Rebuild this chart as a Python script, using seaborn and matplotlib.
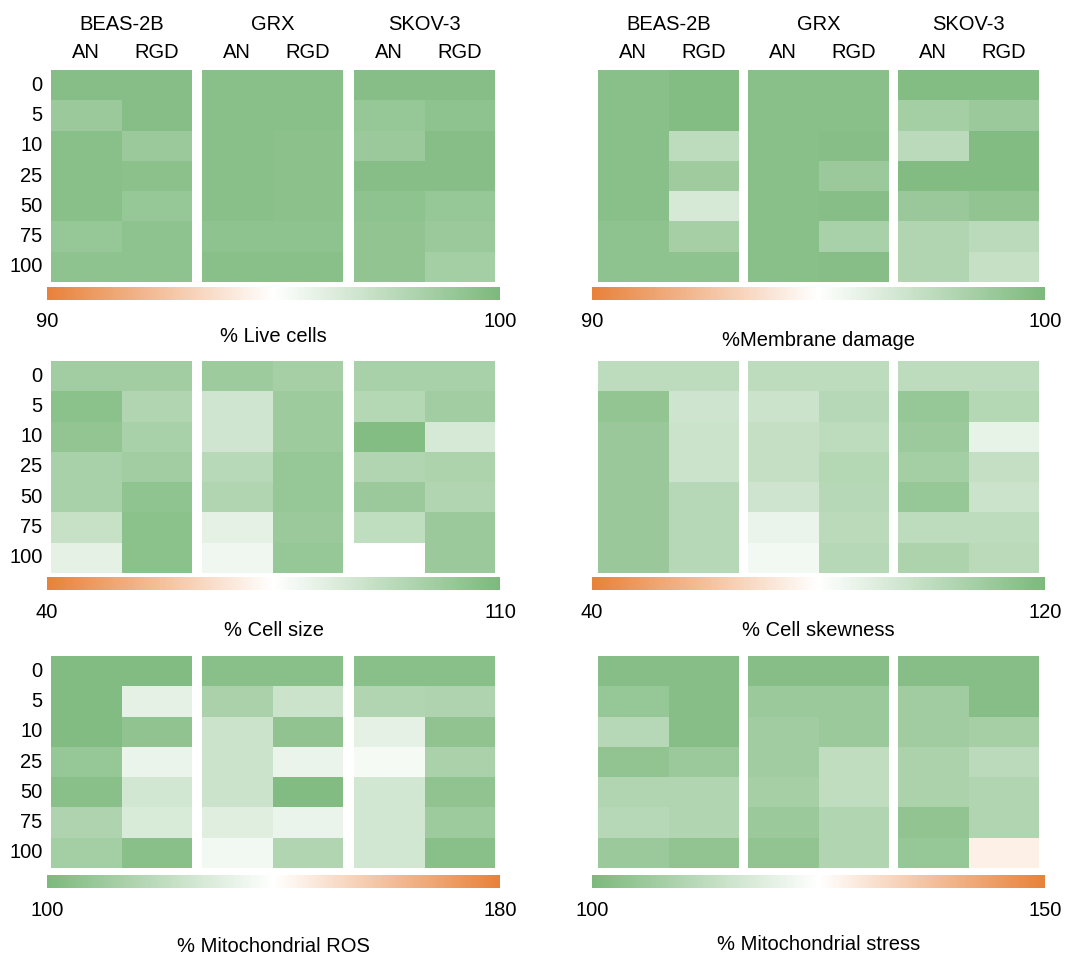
import numpy as np
import matplotlib
matplotlib.use('Agg')
import matplotlib.pyplot as plt
import seaborn as sns
from matplotlib.colors import LinearSegmentedColormap

# rows = dose, columns = BEAS-2B AN/RGD, GRX AN/RGD, SKOV-3 AN/RGD
doses = ['0', '5', '10', '25', '50', '75', '100']
cell_lines = ['BEAS-2B', 'GRX', 'SKOV-3']
treatments = ['AN', 'RGD']

live_cells = [
    [99.6, 99.6, 99.5, 99.5, 99.6, 99.6],
    [98.8, 99.6, 99.5, 99.5, 99.0, 99.3],
    [99.5, 98.8, 99.5, 99.4, 98.8, 99.6],
    [99.5, 99.4, 99.5, 99.4, 99.6, 99.6],
    [99.5, 99.0, 99.5, 99.4, 99.3, 99.0],
    [99.0, 99.3, 99.3, 99.3, 99.2, 98.8],
    [99.3, 99.3, 99.5, 99.5, 99.2, 98.5],
]
membrane_damage = [
    [99.5, 99.7, 99.5, 99.5, 99.7, 99.7],
    [99.5, 99.7, 99.5, 99.5, 98.5, 98.8],
    [99.5, 97.5, 99.5, 99.6, 97.6, 99.8],
    [99.5, 98.7, 99.5, 98.8, 99.8, 99.8],
    [99.5, 96.6, 99.5, 99.6, 98.9, 99.2],
    [99.3, 98.4, 99.5, 98.3, 98.0, 97.6],
    [99.3, 99.3, 99.5, 99.6, 98.0, 97.2],
]
cell_size = [
    [100, 100, 101, 99, 98, 98],
    [106, 96, 88, 101, 95, 100],
    [104, 98, 88, 101, 108, 86],
    [98, 100, 94, 103, 96, 97],
    [98, 105, 96, 103, 102, 96],
    [90, 106, 82, 102, 92, 102],
    [82, 106, 79, 103, 75, 102],
]
cell_skewness = [
    [100, 100, 100, 100, 100, 100],
    [113, 95, 96, 102, 112, 103],
    [111, 96, 98, 100, 110, 87],
    [111, 96, 98, 103, 108, 98],
    [111, 102, 95, 102, 112, 96],
    [111, 102, 86, 101, 100, 100],
    [111, 102, 84, 102, 105, 101],
]
mito_ros = [
    [102, 102, 104, 104, 104, 104],
    [102, 132, 114, 124, 116, 115],
    [102, 106, 124, 106, 132, 106],
    [108, 134, 124, 134, 137, 114],
    [104, 126, 124, 102, 126, 106],
    [115, 128, 130, 134, 126, 110],
    [112, 104, 136, 116, 126, 104],
]
mito_stress = [
    [102, 102, 102, 102, 102, 102],
    [105, 102, 106, 106, 107, 102],
    [111, 102, 107, 106, 107, 108],
    [104, 106, 107, 113, 109, 112],
    [110, 110, 108, 113, 109, 110],
    [111, 110, 106, 110, 104, 110],
    [106, 104, 104, 110, 105, 128],
]

orange, green = '#E8813A', '#7DB97D'
cmap_og = LinearSegmentedColormap.from_list('og', [orange, '#FFFFFF', green])
cmap_go = LinearSegmentedColormap.from_list('go', [green, '#FFFFFF', orange])

W, H = 1086, 958
FS = 14.5

plt.rcParams['font.family'] = ['Liberation Sans', 'DejaVu Sans']
fig = plt.figure(figsize=(W / 100, H / 100), dpi=100)


def box(x0, y0, w, h):
    # pixel box (top-left origin) -> figure fraction
    return [x0 / W, 1 - (y0 + h) / H, w / W, h / H]


panels = [
    # data, vmin, vmax, cmap, title, col, row, title y
    (live_cells, 90, 100, cmap_og, '% Live cells', 0, 0, 336),
    (membrane_damage, 90, 100, cmap_og, '%Membrane damage', 1, 0, 340),
    (cell_size, 40, 110, cmap_og, '% Cell size', 0, 1, 630),
    (cell_skewness, 40, 120, cmap_og, '% Cell skewness', 1, 1, 630),
    (mito_ros, 100, 180, cmap_go, '% Mitochondrial ROS', 0, 2, 947),
    (mito_stress, 100, 150, cmap_go, '% Mitochondrial stress', 1, 2, 944),
]

block_x = [[51, 202, 354], [598, 748, 898]]
block_w = 141
row_top = [70, 361, 656]
block_h = 212
cbar_top = [287, 577, 875]
cbar_x = [47, 592]
cbar_w = 453

for data, vmin, vmax, cmap, title, col, row, ty in panels:
    vals = np.array(data, dtype=float)
    ax = None
    for k, name in enumerate(cell_lines):
        ax = fig.add_axes(box(block_x[col][k], row_top[row], block_w, block_h))
        sub = vals[:, 2 * k:2 * k + 2]
        sns.heatmap(sub, ax=ax, cmap=cmap, vmin=vmin, vmax=vmax, cbar=False,
                    xticklabels=treatments if row == 0 else False,
                    yticklabels=doses if (col == 0 and k == 0) else False)
        ax.tick_params(length=0)
        if col == 0 and k == 0:
            ax.tick_params(axis='y', pad=6, labelsize=FS, labelrotation=0)
        if row == 0:
            ax.xaxis.tick_top()
            ax.tick_params(axis='x', pad=6, labelsize=FS, labelrotation=0)
            cx = block_x[col][k] + block_w / 2
            fig.text(cx / W, 1 - 24 / H, name, ha='center', va='center', fontsize=FS)

    cax = fig.add_axes(box(cbar_x[col], cbar_top[row], cbar_w, 13))
    cb = fig.colorbar(ax.collections[0], cax=cax, orientation='horizontal')
    cb.outline.set_visible(False)
    cb.set_ticks([vmin, vmax])
    cb.set_ticklabels([str(vmin), str(vmax)])
    cax.tick_params(length=0, pad=9, labelsize=FS)
    fig.text((cbar_x[col] + cbar_w / 2) / W, 1 - ty / H, title,
             ha='center', va='center', fontsize=FS)

fig.savefig('out.png', dpi=100, facecolor='white')
